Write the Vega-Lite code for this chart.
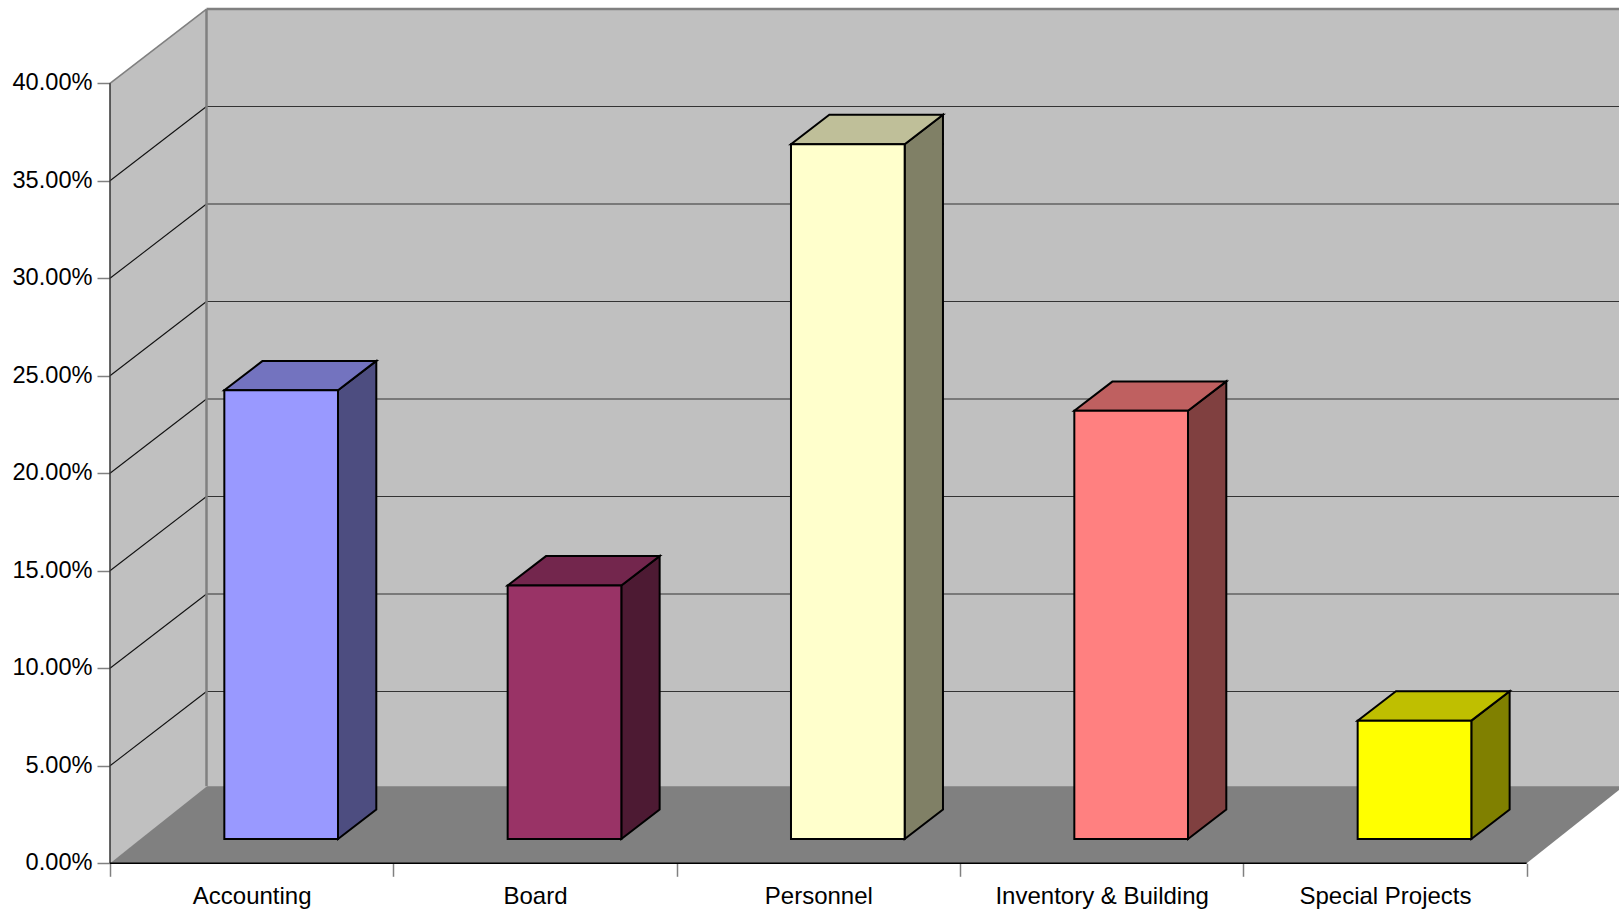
{
"$schema":"https://vega.github.io/schema/vega-lite/v6.json",
"width":1509,"height":863.3,
"autosize":{"type":"none"},
"padding":{"left":110,"top":0,"right":0,"bottom":49.7},
"background":"white",
"config":{"view":{"stroke":null},"font":"Liberation Sans"},
"datasets":{
"bars":[
{"category":"Accounting","position":0,"value":0.2301},
{"category":"Board","position":1,"value":0.13},
{"category":"Personnel","position":2,"value":0.3563},
{"category":"Inventory & Building","position":3,"value":0.2196},
{"category":"Special Projects","position":4,"value":0.0607}],
"ticks":[{"tick":0},{"tick":0.05},{"tick":0.1},{"tick":0.15},{"tick":0.2},{"tick":0.25},{"tick":0.3},{"tick":0.35},{"tick":0.4}],
"depths":[{"edge":0},{"edge":1}]
},
"layer":[
{"data":{"name":"depths"},"transform":[{"calculate":"datum.edge*0.3406","as":"x"},{"calculate":"datum.edge*0.0381","as":"y"},{"calculate":"0.4+datum.edge*0.0381","as":"y2"}],
"mark":{"type":"area","color":"#C0C0C0"},
"encoding":{"x":{"field":"x","type":"quantitative","scale":{"domain":[0,5.3259],"nice":false,"zero":false},"axis":{"orient":"bottom","values":[0,1,2,3,4,5],"labels":false,"title":null,"grid":false,"domain":false,"tickSize":13,"tickWidth":1.5,"tickColor":"#808080"}},
"y":{"field":"y","type":"quantitative","stack":null,"scale":{"domain":[0,0.44272],"nice":false,"zero":false},"axis":{"orient":"left","values":[0,0.05,0.1,0.15,0.2,0.25,0.3,0.35,0.4],"format":".2%","title":null,"grid":false,"domain":false,"tickSize":13,"tickWidth":1.5,"tickColor":"#808080","labelFontSize":23.6,"labelFont":"Liberation Sans","labelColor":"#000000","labelPadding":5,"labelOffset":-0.5,"labelOverlap":false,"labelBound":false,"labelFlush":false}},
"y2":{"field":"y2"}}},
{"data":{"name":"depths"},"transform":[{"filter":"datum.edge==1"},{"calculate":"0.3406","as":"x"},{"calculate":"5.3406","as":"x2"},{"calculate":"0.0381","as":"y"},{"calculate":"0.4381","as":"y2"}],
"mark":{"type":"rect","color":"#C0C0C0","clip":true},
"encoding":{"x":{"field":"x","type":"quantitative","scale":{"domain":[0,5.3259],"nice":false,"zero":false},"axis":{"orient":"bottom","values":[0.5,1.5,2.5,3.5,4.5],"labelExpr":"['Accounting','Board','Personnel','Inventory & Building','Special Projects'][floor(datum.value)]","title":null,"grid":false,"domain":false,"ticks":false,"tickSize":0,"labelFontSize":24,"labelFont":"Liberation Sans","labelColor":"#000000","labelPadding":21,"labelLimit":500,"labelOverlap":false,"labelBound":false,"labelFlush":false,"labelAngle":0}},
"x2":{"field":"x2"},
"y":{"field":"y","type":"quantitative","scale":{"domain":[0,0.44272],"nice":false,"zero":false},"axis":null},
"y2":{"field":"y2"}}},
{"data":{"name":"ticks"},"transform":[{"filter":"datum.tick>0 && datum.tick<0.4"},{"calculate":"0","as":"x"},{"calculate":"0.3406","as":"x2"},{"calculate":"datum.tick+0.0381","as":"y2"}],
"mark":{"type":"rule","color":"#111111","strokeWidth":1.1},
"encoding":{"x":{"field":"x","type":"quantitative","scale":{"domain":[0,5.3259],"nice":false,"zero":false},"axis":null},"x2":{"field":"x2"},
"y":{"field":"tick","type":"quantitative","scale":{"domain":[0,0.44272],"nice":false,"zero":false},"axis":null},"y2":{"field":"y2"}}},
{"data":{"name":"ticks"},"transform":[{"filter":"datum.tick>0 && datum.tick<0.4"},{"calculate":"0.3406","as":"x"},{"calculate":"5.3406","as":"x2"},{"calculate":"datum.tick+0.0381","as":"y"}],
"mark":{"type":"rule","color":"#333333","strokeWidth":1.1,"clip":true},
"encoding":{"x":{"field":"x","type":"quantitative","scale":{"domain":[0,5.3259],"nice":false,"zero":false},"axis":null},"x2":{"field":"x2"},
"y":{"field":"y","type":"quantitative","scale":{"domain":[0,0.44272],"nice":false,"zero":false},"axis":null}}},
{"data":{"name":"ticks"},"transform":[{"filter":"datum.tick==0.4"},{"calculate":"0","as":"x"},{"calculate":"0.3406","as":"x2"},{"calculate":"datum.tick+0.0381","as":"y2"}],
"mark":{"type":"rule","color":"#808080","strokeWidth":1.6},
"encoding":{"x":{"field":"x","type":"quantitative","scale":{"domain":[0,5.3259],"nice":false,"zero":false},"axis":null},"x2":{"field":"x2"},
"y":{"field":"tick","type":"quantitative","scale":{"domain":[0,0.44272],"nice":false,"zero":false},"axis":null},"y2":{"field":"y2"}}},
{"data":{"name":"ticks"},"transform":[{"filter":"datum.tick==0.4"},{"calculate":"0.3406","as":"x"},{"calculate":"5.3406","as":"x2"},{"calculate":"datum.tick+0.0381","as":"y"}],
"mark":{"type":"rule","color":"#808080","strokeWidth":2.5,"clip":true},
"encoding":{"x":{"field":"x","type":"quantitative","scale":{"domain":[0,5.3259],"nice":false,"zero":false},"axis":null},"x2":{"field":"x2"},
"y":{"field":"y","type":"quantitative","scale":{"domain":[0,0.44272],"nice":false,"zero":false},"axis":null}}},
{"data":{"name":"depths"},"transform":[{"filter":"datum.edge==1"},{"calculate":"0.3406","as":"x"},{"calculate":"0.0395","as":"y"},{"calculate":"0.4381","as":"y2"}],
"mark":{"type":"rule","color":"#808080","strokeWidth":2.5},
"encoding":{"x":{"field":"x","type":"quantitative","scale":{"domain":[0,5.3259],"nice":false,"zero":false},"axis":null},
"y":{"field":"y","type":"quantitative","scale":{"domain":[0,0.44272],"nice":false,"zero":false},"axis":null},"y2":{"field":"y2"}}},
{"data":{"name":"depths"},"transform":[{"calculate":"datum.edge*0.3424","as":"x"},{"calculate":"5+datum.edge*0.3424","as":"x2"},{"calculate":"datum.edge*0.0395","as":"y"}],
"mark":{"type":"area","orient":"horizontal","color":"#808080","clip":true},
"encoding":{"y":{"field":"y","type":"quantitative","scale":{"domain":[0,0.44272],"nice":false,"zero":false},"axis":null},
"x":{"field":"x","type":"quantitative","stack":null,"scale":{"domain":[0,5.3259],"nice":false,"zero":false},"axis":null},"x2":{"field":"x2"}}},
{"data":{"name":"depths"},"transform":[{"filter":"datum.edge==0"},{"calculate":"0","as":"x"},{"calculate":"0.4","as":"y2"},{"calculate":"0","as":"y"}],
"mark":{"type":"rule","color":"#333333","strokeWidth":1.5},
"encoding":{"x":{"field":"x","type":"quantitative","scale":{"domain":[0,5.3259],"nice":false,"zero":false},"axis":null},
"y":{"field":"y","type":"quantitative","scale":{"domain":[0,0.44272],"nice":false,"zero":false},"axis":null},"y2":{"field":"y2"}}},
{"data":{"name":"depths"},"transform":[{"filter":"datum.edge==0"},{"calculate":"0","as":"x"},{"calculate":"5","as":"x2"},{"calculate":"0","as":"y"}],
"mark":{"type":"rule","color":"#000000","strokeWidth":1.5},
"encoding":{"x":{"field":"x","type":"quantitative","scale":{"domain":[0,5.3259],"nice":false,"zero":false},"axis":null},"x2":{"field":"x2"},
"y":{"field":"y","type":"quantitative","scale":{"domain":[0,0.44272],"nice":false,"zero":false},"axis":null}}},
{"data":{"name":"bars"},"transform":[{"calculate":"[0,1]","as":"edge"},{"flatten":["edge"]},{"calculate":"datum.position+0.4035+0.4012+datum.edge*0.1352","as":"x"},{"calculate":"0.01246+datum.edge*0.01508","as":"y"},{"calculate":"0.01246+datum.value+datum.edge*0.01508","as":"y2"}],
"mark":{"type":"area","stroke":"#000000","strokeWidth":2,"strokeJoin":"miter"},
"encoding":{"x":{"field":"x","type":"quantitative","scale":{"domain":[0,5.3259],"nice":false,"zero":false},"axis":null},
"y":{"field":"y","type":"quantitative","stack":null,"scale":{"domain":[0,0.44272],"nice":false,"zero":false},"axis":null},"y2":{"field":"y2"},
"color":{"field":"category","type":"nominal","legend":null,"scale":{"domain":["Accounting","Board","Personnel","Inventory & Building","Special Projects"],"range":["#4D4D80","#4D1A33","#808066","#804040","#808000"]}}}},
{"data":{"name":"bars"},"transform":[{"calculate":"[0,1]","as":"edge"},{"flatten":["edge"]},{"calculate":"datum.position+0.4035+datum.edge*0.1352","as":"x"},{"calculate":"datum.position+0.4035+0.4012+datum.edge*0.1352","as":"x2"},{"calculate":"0.01246+datum.value+datum.edge*0.01508","as":"y"}],
"mark":{"type":"area","orient":"horizontal","stroke":"#000000","strokeWidth":2,"strokeJoin":"miter"},
"encoding":{"y":{"field":"y","type":"quantitative","scale":{"domain":[0,0.44272],"nice":false,"zero":false},"axis":null},
"x":{"field":"x","type":"quantitative","stack":null,"scale":{"domain":[0,5.3259],"nice":false,"zero":false},"axis":null},"x2":{"field":"x2"},
"color":{"field":"category","type":"nominal","legend":null,"scale":{"domain":["Accounting","Board","Personnel","Inventory & Building","Special Projects"],"range":["#7373BF","#73264D","#BFBF99","#BF6060","#BFBF00"]}}}},
{"data":{"name":"bars"},"transform":[{"calculate":"datum.position+0.4035","as":"x"},{"calculate":"datum.position+0.4035+0.4012","as":"x2"},{"calculate":"0.01246","as":"y"},{"calculate":"0.01246+datum.value","as":"y2"}],
"mark":{"type":"rect","stroke":"#000000","strokeWidth":2},
"encoding":{"x":{"field":"x","type":"quantitative","scale":{"domain":[0,5.3259],"nice":false,"zero":false},"axis":null},"x2":{"field":"x2"},
"y":{"field":"y","type":"quantitative","scale":{"domain":[0,0.44272],"nice":false,"zero":false},"axis":null},"y2":{"field":"y2"},
"color":{"field":"category","type":"nominal","legend":null,"scale":{"domain":["Accounting","Board","Personnel","Inventory & Building","Special Projects"],"range":["#9999FF","#993366","#FFFFCC","#FF8080","#FFFF00"]}}}}
],
"resolve":{"axis":{"x":"independent","y":"independent"},"scale":{"color":"independent"}}
}
